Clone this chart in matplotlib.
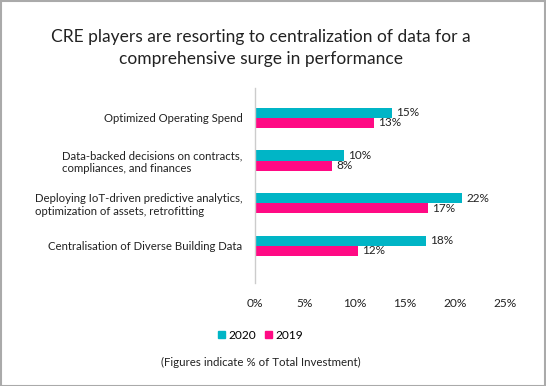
import matplotlib.pyplot as plt
import matplotlib.patches as mpatches
import numpy as np

# Data
categories = [
    "Optimized Operating Spend",
    "Data-backed decisions on contracts,\ncompliances, and finances",
    "Deploying IoT-driven predictive analytics,\noptimization of assets, retrofitting",
    "Centralisation of Diverse Building Data",
]
values_2020 = [13.7, 8.9, 20.7, 17.1]
values_2019 = [11.9, 7.7, 17.3, 10.3]
labels_2020 = ["15%", "10%", "22%", "18%"]
labels_2019 = ["13%", "8%", "17%", "12%"]
xticks = [0, 5, 10, 15, 20, 25]

# Style
plt.rcParams['font.family'] = ['Lato', 'DejaVu Sans']
teal = '#00B5C6'
pink = '#FF0A84'
textColor = '#222222'

fig = plt.figure(figsize=(5.46, 3.86), dpi=100)
ax = fig.add_axes([0.467, 0.267, 0.458, 0.505])

y = np.arange(len(categories))
barH = 0.235
ax.barh(y - barH / 2, values_2020, height=barH, color=teal, label='2020')
ax.barh(y + barH / 2, values_2019, height=barH, color=pink, label='2019')

# Value labels
for i in range(len(categories)):
    ax.text(values_2020[i] + 0.4, y[i] - barH / 2, labels_2020[i], va='center', ha='left',
            fontsize=8.5, color=textColor)
    ax.text(values_2019[i] + 0.4, y[i] + barH / 2, labels_2019[i], va='center', ha='left',
            fontsize=8.5, color=textColor)

ax.set_xlim(0, 25)
ax.set_ylim(3.87, -0.70)
ax.set_yticks(y)
ax.set_yticklabels(categories, fontsize=8.2, color=textColor, ha='right', multialignment='left')
ax.set_xticks(xticks)
ax.set_xticklabels(["%d%%" % t for t in xticks], fontsize=8.6, color=textColor)
ax.tick_params(axis='both', length=0)
ax.tick_params(axis='x', pad=11)
ax.tick_params(axis='y', pad=9)

for side in ['top', 'right', 'bottom']:
    ax.spines[side].set_visible(False)
ax.spines['left'].set_color('#cccccc')
ax.spines['left'].set_linewidth(1.0)

# Title
fig.text(0.478, 0.875, "CRE players are resorting to centralization of data for a\ncomprehensive surge in performance",
         ha='center', va='center', fontsize=12.5, color=textColor, linespacing=1.45)

# Legend
handles = [mpatches.Patch(color=teal, label='2020'), mpatches.Patch(color=pink, label='2019')]
fig.legend(handles=handles, loc='center', bbox_to_anchor=(0.477, 0.132), ncol=2, frameon=False,
           fontsize=8.6, handlelength=0.6, handleheight=0.6, handletextpad=0.3, columnspacing=0.7)

# Footnote
fig.text(0.477, 0.062, "(Figures indicate % of Total Investment)", ha='center', va='center',
         fontsize=8.3, color=textColor)

# Border
fig.patches.append(mpatches.Rectangle((0.001, 0.001), 0.997, 0.996, transform=fig.transFigure,
                                      fill=False, edgecolor='#aaaaaa', linewidth=1.5))

fig.savefig('out.png', dpi=100)
